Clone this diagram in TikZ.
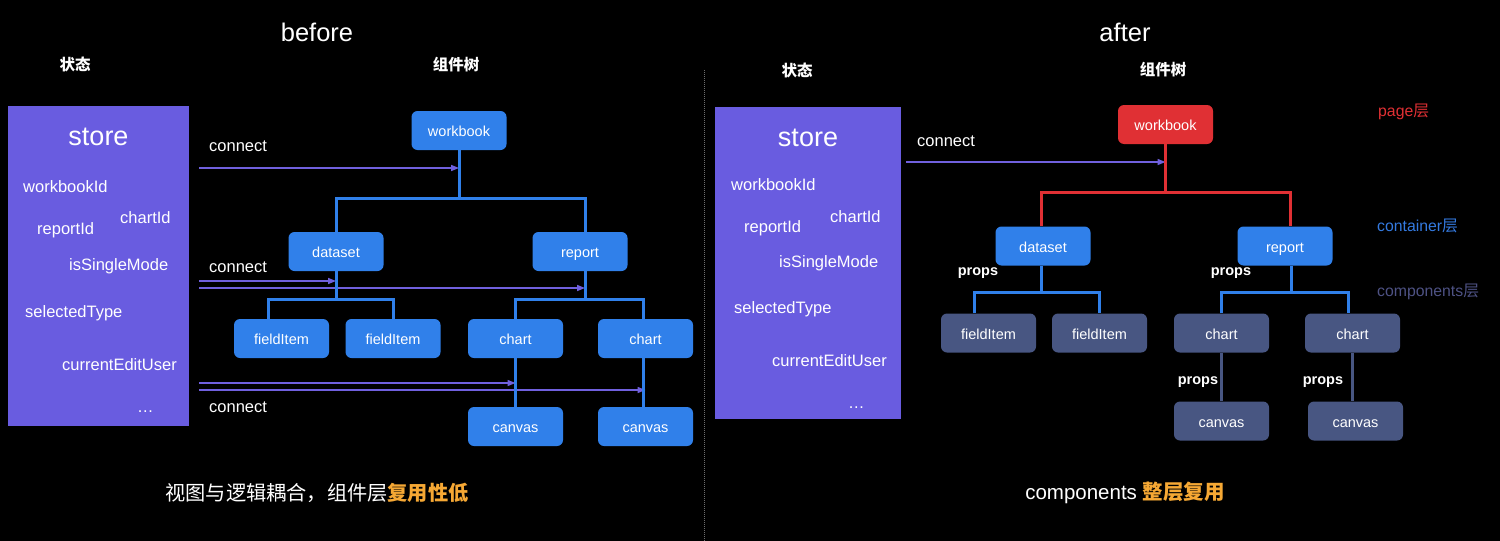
\documentclass[tikz,border=0pt]{standalone}
\usepackage{fontspec}
\setmainfont{Liberation Sans}
\newfontfamily\cjk{Noto Sans CJK SC}
\usetikzlibrary{positioning, arrows.meta}

\definecolor{storepurple}{RGB}{105,92,224}
\definecolor{boxblue}{RGB}{48,128,234}
\definecolor{boxred}{RGB}{224,48,52}
\definecolor{boxslate}{RGB}{72,86,130}
\definecolor{linkpurple}{RGB}{112,96,222}
\definecolor{hotorange}{RGB}{246,168,52}
\definecolor{layerblue}{RGB}{52,122,224}
\definecolor{layergray}{RGB}{78,82,132}
\definecolor{sepgray}{RGB}{110,110,110}

\begin{document}
\begin{tikzpicture}[x=1pt, y=-1pt,
format/.style={rectangle, rounded corners=6pt, minimum width=95pt, minimum height=39pt, inner sep=0pt, fill=boxblue, text=white, text height=12pt, text depth=0pt, font=\fontsize{14.5}{16}\selectfont},
statebox/.style={rectangle, inner sep=0pt, fill=storepurple, anchor=north west},
heading/.style={inner sep=0pt, text=white, font=\fontsize{25.5}{28}\selectfont},
colhead/.style={inner sep=0pt, text=white, font=\fontsize{15.5}{18}\selectfont\cjk\bfseries},
storetitle/.style={inner sep=0pt, text=white, font=\fontsize{27}{30}\selectfont},
field/.style={anchor=west, inner sep=0pt, text=white, text height=12pt, text depth=0pt, font=\fontsize{16.5}{19}\selectfont},
linktext/.style={anchor=west, inner sep=0pt, text=white, font=\fontsize{16.5}{19}\selectfont},
layertext/.style={anchor=west, inner sep=0pt, font=\fontsize{15.8}{18}\selectfont},
props/.style={inner sep=0pt, text=white, font=\fontsize{14.5}{16}\selectfont\bfseries},
captext/.style={inner sep=0pt, text=white},
treeline/.style={line width=3pt, draw=boxblue},
connline/.style={draw=linkpurple, line width=1.5pt, -{Triangle[length=8pt, width=6pt]}}
]
\useasboundingbox (0,0) rectangle (1500,541);
\fill[black] (0,0) rectangle (1500,541);
\draw[sepgray, line width=1pt, dash pattern=on 1pt off 1pt] (704,70) -- (704,541);

% before
\node[heading]  (beforeT) at (317,32) {before};
\node[colhead]  (stateB)  at (75,64)  {状态};
\node[colhead]  (treeB)   at (456,65) {组件树};

\node[statebox, minimum width=181pt, minimum height=320pt] (storeB) at (8,106) {};
\node[storetitle] (storeBT) at (98.5,137) {store};
\node[field] at (23,186)  {workbookId};
\node[field] at (37,228)  {reportId};
\node[field] at (120,217) {chartId};
\node[field] at (69,264)  {isSingleMode};
\node[field] at (25,311)  {selectedType};
\node[field] at (62,364)  {currentEditUser};
\node[field] at (137,406) {…};

\node[format] (wbB)  at (459,130.5)   {workbook};
\node[format] (dsB)  at (336,251.5)   {dataset};
\node[format] (rpB)  at (580,251.5)   {report};
\node[format] (fiB1) at (281.5,338.5) {fieldItem};
\node[format] (fiB2) at (393,338.5)   {fieldItem};
\node[format] (chB1) at (515.5,338.5) {chart};
\node[format] (chB2) at (645.5,338.5) {chart};
\node[format] (cvB1) at (515.5,426.5) {canvas};
\node[format] (cvB2) at (645.5,426.5) {canvas};

\coordinate (rpBx) at ([xshift=5pt]rpB.south);
\coordinate (lkB1) at (199,168);
\coordinate (lkB2) at (199,281);
\coordinate (lkB3) at (199,288);
\coordinate (lkB4) at (199,383);
\coordinate (lkB5) at (199,390);
\draw[connline] (lkB1) -- (lkB1 -| wbB.south);
\draw[connline] (lkB2) -- (lkB2 -| dsB.south);
\draw[connline] (lkB3) -- (lkB3 -| rpBx);
\draw[connline] (lkB4) -- (lkB4 -| chB1.south);
\draw[connline] (lkB5) -- (lkB5 -| chB2.south);
\node[linktext] at (209,146) {connect};
\node[linktext] at (209,267) {connect};
\node[linktext] at (209,407) {connect};

\draw[treeline] (wbB.south) -- ++(0,48) coordinate (wbBj);
\draw[treeline] (dsB.north) |- (wbBj) -| ([xshift=5pt]rpB.north);
\draw[treeline] (dsB.south) -- ++(0,28) coordinate (dsBj);
\draw[treeline] ([xshift=-13pt]fiB1.north) |- (dsBj) -| (fiB2.north);
\draw[treeline] (rpBx) -- ++(0,28) coordinate (rpBj);
\draw[treeline] (chB1.north) |- (rpBj) -| ([xshift=-2pt]chB2.north);
\draw[treeline] (chB1.south) -- (cvB1.north);
\draw[treeline] ([xshift=-2pt]chB2.south) -- ([xshift=-2pt]cvB2.north);

\node[captext, font=\fontsize{20.2}{24}\selectfont\cjk] (capB) at (317,493) {视图与逻辑耦合，组件层{\bfseries\color{hotorange}复用性低}};

% after
\node[heading]  (afterT) at (1125,32) {after};
\node[colhead]  (stateA) at (797,70)  {状态};
\node[colhead]  (treeA)  at (1163,70) {组件树};

\node[statebox, minimum width=186pt, minimum height=312pt] (storeA) at (715,107) {};
\node[storetitle] (storeAT) at (808,138) {store};
\node[field] at (731,184) {workbookId};
\node[field] at (744,226) {reportId};
\node[field] at (830,216) {chartId};
\node[field] at (779,261) {isSingleMode};
\node[field] at (734,307) {selectedType};
\node[field] at (772,360) {currentEditUser};
\node[field] at (848,402) {…};

\node[format, fill=boxred]   (wbA)  at (1165.5,124.5) {workbook};
\node[format]                (dsA)  at (1043,246)     {dataset};
\node[format]                (rpA)  at (1285,246)     {report};
\node[format, fill=boxslate] (fiA1) at (988.5,333)    {fieldItem};
\node[format, fill=boxslate] (fiA2) at (1099.5,333)   {fieldItem};
\node[format, fill=boxslate] (chA1) at (1221.5,333)   {chart};
\node[format, fill=boxslate] (chA2) at (1352.5,333)   {chart};
\node[format, fill=boxslate] (cvA1) at (1221.5,421)   {canvas};
\node[format, fill=boxslate] (cvA2) at (1355.5,421)   {canvas};

\coordinate (lkA1) at (906,162);
\draw[connline] (lkA1) -- (lkA1 -| wbA.south);
\node[linktext] at (917,141) {connect};

\draw[treeline, draw=boxred] (wbA.south) -- ++(0,48.5) coordinate (wbAj);
\draw[treeline, draw=boxred] ([xshift=-2pt]dsA.north) |- (wbAj) -| ([xshift=5pt]rpA.north);
\draw[treeline] ([xshift=-2pt]dsA.south) -- ++(0,27) coordinate (dsAj);
\draw[treeline] ([xshift=-14pt]fiA1.north) |- (dsAj) -| (fiA2.north);
\draw[treeline] ([xshift=6pt]rpA.south) -- ++(0,27) coordinate (rpAj);
\draw[treeline] (chA1.north) |- (rpAj) -| ([xshift=-4pt]chA2.north);
\draw[treeline, draw=boxslate] (chA1.south) -- (cvA1.north);
\draw[treeline, draw=boxslate] (chA2.south) -- (chA2.south |- cvA2.north);

\node[props] at (978,273)  {props};
\node[props] at (1231,273) {props};
\node[props] at (1198,382) {props};
\node[props] at (1323,382) {props};

\node[layertext, text=boxred]    at (1378,112) {page{\cjk 层}};
\node[layertext, text=layerblue] at (1377,226) {container{\cjk 层}};
\node[layertext, text=layergray] at (1377,292) {components{\cjk 层}};

\node[captext, font=\fontsize{20.5}{24}\selectfont] (capA) at (1125,493) {components {\cjk\bfseries\color{hotorange}整层复用}};
\end{tikzpicture}
\end{document}
